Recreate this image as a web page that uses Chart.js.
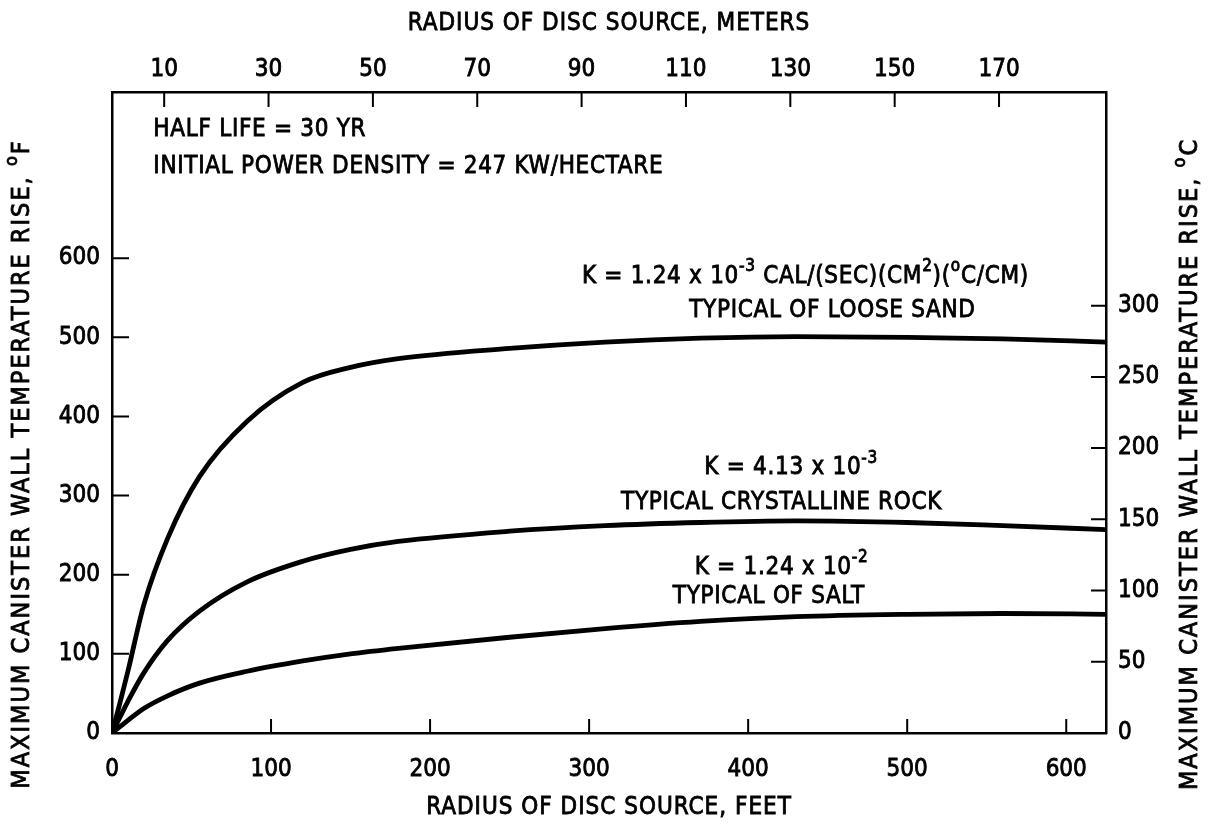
<!DOCTYPE html>
<html>
<head>
<meta charset="utf-8">
<script src="https://cdn.jsdelivr.net/npm/chart.js@4.4.0/dist/chart.umd.min.js"></script>
<style>
  html, body { margin: 0; padding: 0; background: #fff; }
  canvas { display: block; }
</style>
</head>
<body>
<canvas id="wall_temp_chart" width="1209" height="827"></canvas>
<script>
// radius of disc source (ft) and temperature rise (deg F) for each rock type
var radiusFeet = [0, 5, 10, 20, 35, 55, 85, 120, 150, 180, 250, 310, 370, 430, 500, 560, 625];
var riseLooseSand = [0, 38, 78, 162, 246, 324, 394, 443, 462, 473, 486, 494, 499, 501, 500, 498, 494];
var riseCrystalline = [0, 20, 40, 76, 117, 154, 191, 217, 232, 242, 255, 262, 266, 268, 266, 262, 257];
var riseSalt = [0, 8, 16, 31, 47, 63, 78, 91, 100, 107, 121, 132, 141, 147, 150, 151, 150];

var feetTicks = [0, 100, 200, 300, 400, 500, 600];
var meterTicks = [10, 30, 50, 70, 90, 110, 130, 150, 170];
var degFTicks = [0, 100, 200, 300, 400, 500, 600];
var degCTicks = [0, 50, 100, 150, 200, 250, 300];

var FONT = "'Liberation Sans Narrow', 'DejaVu Sans Condensed', 'Roboto Condensed', sans-serif";
var FT_MAX = 625;
var F_MAX = 810;

function fixTicks(list) {
  return function (scale) {
    scale.ticks = list.map(function (v) { return { value: v }; });
  };
}

// text with raised small parts (exponents, degree marks), stroked a little for weight
function drawRich(ctx, parts, x, y, align, size, spacing) {
  var big = size + 'px ' + FONT;
  var small = Math.round(size * 0.7) + 'px ' + FONT;
  ctx.letterSpacing = (spacing || 0) + 'px';
  var w = 0;
  parts.forEach(function (p) {
    ctx.font = p.sup ? small : big;
    w += ctx.measureText(p.t).width;
  });
  var cx = align === 'center' ? x - w / 2 : x;
  ctx.textAlign = 'left';
  ctx.textBaseline = 'middle';
  ctx.lineWidth = 0.8;
  ctx.strokeStyle = '#000';
  parts.forEach(function (p) {
    ctx.font = p.sup ? small : big;
    var ty = p.sup ? y - size * 0.4 : y;
    ctx.fillText(p.t, cx, ty);
    ctx.strokeText(p.t, cx, ty);
    cx += ctx.measureText(p.t).width;
  });
  ctx.letterSpacing = '0px';
}

var notes = [
  { x: 26, y: 762, align: 'left', parts: [{ t: 'HALF LIFE = 30 YR' }] },
  { x: 26, y: 716, align: 'left', parts: [{ t: 'INITIAL POWER DENSITY = 247 KW/HECTARE' }] },
  { x: 436, y: 577, align: 'center', parts: [{ t: 'K = 1.24 x 10' }, { t: '-3', sup: true }, { t: ' CAL/(SEC)(CM' }, { t: '2', sup: true }, { t: ')(' }, { t: 'o', sup: true }, { t: 'C/CM)' }] },
  { x: 453, y: 534, align: 'center', parts: [{ t: 'TYPICAL OF LOOSE SAND' }] },
  { x: 427, y: 335, align: 'center', parts: [{ t: 'K = 4.13 x 10' }, { t: '-3', sup: true }] },
  { x: 421, y: 291, align: 'center', parts: [{ t: 'TYPICAL CRYSTALLINE ROCK' }] },
  { x: 421, y: 209, align: 'center', parts: [{ t: 'K = 1.24 x 10' }, { t: '-2', sup: true }] },
  { x: 413, y: 172, align: 'center', parts: [{ t: 'TYPICAL OF SALT' }] }
];

var notesPlugin = {
  id: 'notes',
  afterDraw: function (chart) {
    var ctx = chart.ctx;
    var xs = chart.scales.x, ys = chart.scales.y;
    var area = chart.chartArea;
    ctx.save();
    ctx.fillStyle = '#000';

    // inward tick marks on all four sides
    ctx.strokeStyle = '#000';
    ctx.lineWidth = 2;
    ctx.beginPath();
    feetTicks.slice(1).forEach(function (v) {
      var px = xs.getPixelForValue(v);
      ctx.moveTo(px, area.bottom); ctx.lineTo(px, area.bottom - 14);
    });
    meterTicks.forEach(function (v) {
      var px = chart.scales.x2.getPixelForValue(v);
      ctx.moveTo(px, area.top); ctx.lineTo(px, area.top + 15);
    });
    degFTicks.slice(1).forEach(function (v) {
      var py = ys.getPixelForValue(v);
      ctx.moveTo(area.left, py); ctx.lineTo(area.left + 17, py);
    });
    degCTicks.slice(1).forEach(function (v) {
      var py = chart.scales.y2.getPixelForValue(v);
      ctx.moveTo(area.right, py); ctx.lineTo(area.right - 15, py);
    });
    ctx.stroke();

    notes.forEach(function (n) {
      drawRich(ctx, n.parts, xs.getPixelForValue(n.x), ys.getPixelForValue(n.y), n.align, 24, 0.7);
    });

    // axis titles
    var midX = (area.left + area.right) / 2;
    drawRich(ctx, [{ t: 'RADIUS OF DISC SOURCE, METERS' }], midX, 24, 'center', 24, 1);
    drawRich(ctx, [{ t: 'RADIUS OF DISC SOURCE, FEET' }], midX, 808, 'center', 24, 1);

    ctx.save();
    ctx.translate(22, 464);
    ctx.rotate(-Math.PI / 2);
    drawRich(ctx, [{ t: 'MAXIMUM CANISTER WALL TEMPERATURE RISE, ' }, { t: 'o', sup: true }, { t: 'F' }], 0, 0, 'center', 25, 2);
    ctx.restore();

    ctx.save();
    ctx.translate(1190, 464);
    ctx.rotate(-Math.PI / 2);
    drawRich(ctx, [{ t: 'MAXIMUM CANISTER WALL TEMPERATURE RISE, ' }, { t: 'o', sup: true }, { t: 'C' }], 0, 0, 'center', 25, 2);
    ctx.restore();

    ctx.restore();
  }
};

function curve(label, values) {
  return {
    label: label,
    data: radiusFeet.map(function (r, i) { return { x: r, y: values[i] }; }),
    borderColor: '#000',
    borderWidth: 4.8,
    pointRadius: 0,
    fill: false,
    cubicInterpolationMode: 'monotone',
    xAxisID: 'x',
    yAxisID: 'y'
  };
}

var tickFont = { family: FONT, size: 24 };
var tickStyle = function (pad) {
  return { font: tickFont, color: '#000', padding: pad, maxRotation: 0, textStrokeColor: '#000', textStrokeWidth: 0.8 };
};
var axisBorder = { color: '#000', width: 2.5 };
var noGrid = { drawOnChartArea: false, drawTicks: false };

var ctxWall = document.getElementById('wall_temp_chart').getContext('2d');
var wall_temp_chart = new Chart(ctxWall, {
  type: 'line',
  data: {
    datasets: [
      curve('Loose sand', riseLooseSand),
      curve('Crystalline rock', riseCrystalline),
      curve('Salt', riseSalt)
    ]
  },
  options: {
    responsive: false,
    animation: false,
    devicePixelRatio: 1,
    layout: { padding: 0 },
    plugins: { legend: { display: false }, tooltip: { enabled: false } },
    scales: {
      x: {
        type: 'linear', position: 'bottom', min: 0, max: FT_MAX,
        grid: noGrid, border: axisBorder,
        ticks: tickStyle(22),
        afterBuildTicks: fixTicks(feetTicks),
        afterFit: function (s) { s.height = 94; }
      },
      x2: {
        type: 'linear', position: 'top', min: 0, max: FT_MAX * 0.3048,
        grid: noGrid, border: axisBorder,
        ticks: tickStyle(8),
        afterBuildTicks: fixTicks(meterTicks),
        afterFit: function (s) { s.height = 92; }
      },
      y: {
        type: 'linear', position: 'left', min: 0, max: F_MAX,
        grid: noGrid, border: axisBorder,
        ticks: tickStyle(12),
        afterBuildTicks: fixTicks(degFTicks),
        afterFit: function (s) { s.width = 112; }
      },
      y2: {
        type: 'linear', position: 'right', min: 0, max: F_MAX * 5 / 9,
        grid: noGrid, border: axisBorder,
        ticks: tickStyle(12),
        afterBuildTicks: fixTicks(degCTicks),
        afterFit: function (s) { s.width = 103; }
      }
    }
  },
  plugins: [notesPlugin]
});
</script>
</body>
</html>
